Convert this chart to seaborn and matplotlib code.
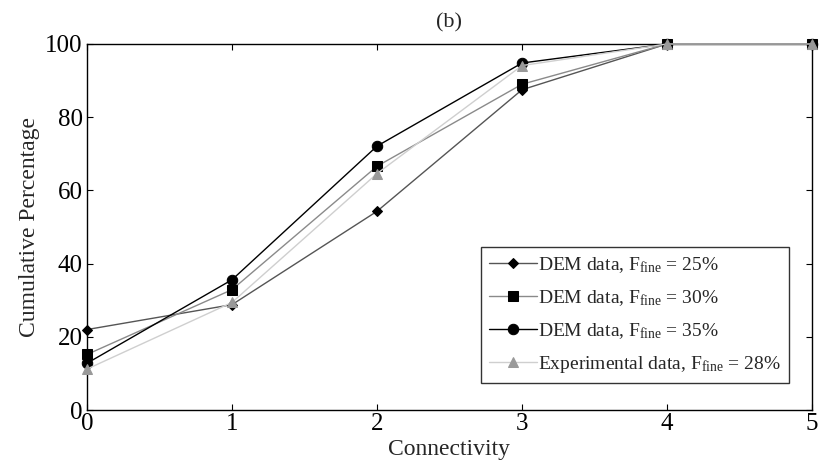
import matplotlib
matplotlib.use("Agg")
import matplotlib.pyplot as plt
import seaborn as sns
import pandas as pd

connectivity = [0, 1, 2, 3, 4, 5]
dem_25 = [22.0, 28.8, 54.3, 87.5, 100, 100]
dem_30 = [15.2, 32.9, 66.6, 89.0, 100, 100]
dem_35 = [12.8, 35.6, 72.1, 94.8, 100, 100]
exp_28 = [11.2, 29.4, 64.6, 94.1, 100, 100]

labels = [
    r"DEM data, F$_{\mathrm{fine}}$ = 25%",
    r"DEM data, F$_{\mathrm{fine}}$ = 30%",
    r"DEM data, F$_{\mathrm{fine}}$ = 35%",
    r"Experimental data, F$_{\mathrm{fine}}$ = 28%",
]
series = [dem_25, dem_30, dem_35, exp_28]
line_colors = ["#555555", "#8a8a8a", "#000000", "#cfcfcf"]
marker_colors = ["#000000", "#000000", "#000000", "#999999"]
markers = ["D", "s", "o", "^"]
marker_sizes = [5.5, 7, 7.5, 7.5]

sns.set_theme(style="ticks")
plt.rcParams["font.family"] = ["Liberation Serif", "DejaVu Serif"]
plt.rcParams["mathtext.fontset"] = "custom"
plt.rcParams["mathtext.rm"] = "Liberation Serif"
plt.rcParams["mathtext.it"] = "Liberation Serif:italic"

fig = plt.figure(figsize=(8.21, 4.73), dpi=100)
ax = fig.add_axes([0.106, 0.133, 0.883, 0.774])

for vals, lab, lc, mc, mk, ms in zip(series, labels, line_colors, marker_colors, markers, marker_sizes):
    df = pd.DataFrame({"Connectivity": connectivity, "Cumulative": vals})
    sns.lineplot(data=df, x="Connectivity", y="Cumulative", ax=ax, color=lc,
                 linewidth=1.0, marker=mk, markersize=ms, markerfacecolor=mc,
                 markeredgecolor=mc, label=lab, clip_on=False, zorder=3)

ax.set_xlim(0, 5)
ax.set_ylim(0, 100)
ax.set_xticks(range(0, 6))
ax.set_yticks(range(0, 101, 20))
ax.tick_params(direction="in", top=True, right=True, labelsize=18, length=4,
               width=0.8, colors="black")
ax.tick_params(axis="x", pad=2)
ax.tick_params(axis="y", pad=3)
for s in ax.spines.values():
    s.set_linewidth(1.0)
    s.set_color("black")
ax.set_xlabel("Connectivity", fontsize=17, labelpad=3)
ax.set_ylabel("Cumulative Percentage", fontsize=17, labelpad=4)
ax.set_title("(b)", fontsize=16, pad=12)

leg = ax.legend(loc="lower right", bbox_to_anchor=(0.968, 0.075), fontsize=14,
                frameon=True, fancybox=False, edgecolor="black",
                handlelength=2.5, handletextpad=0.05, borderpad=0.4,
                labelspacing=0.68, borderaxespad=0)
leg.get_frame().set_linewidth(1.0)

fig.savefig("out.png", dpi=100)
